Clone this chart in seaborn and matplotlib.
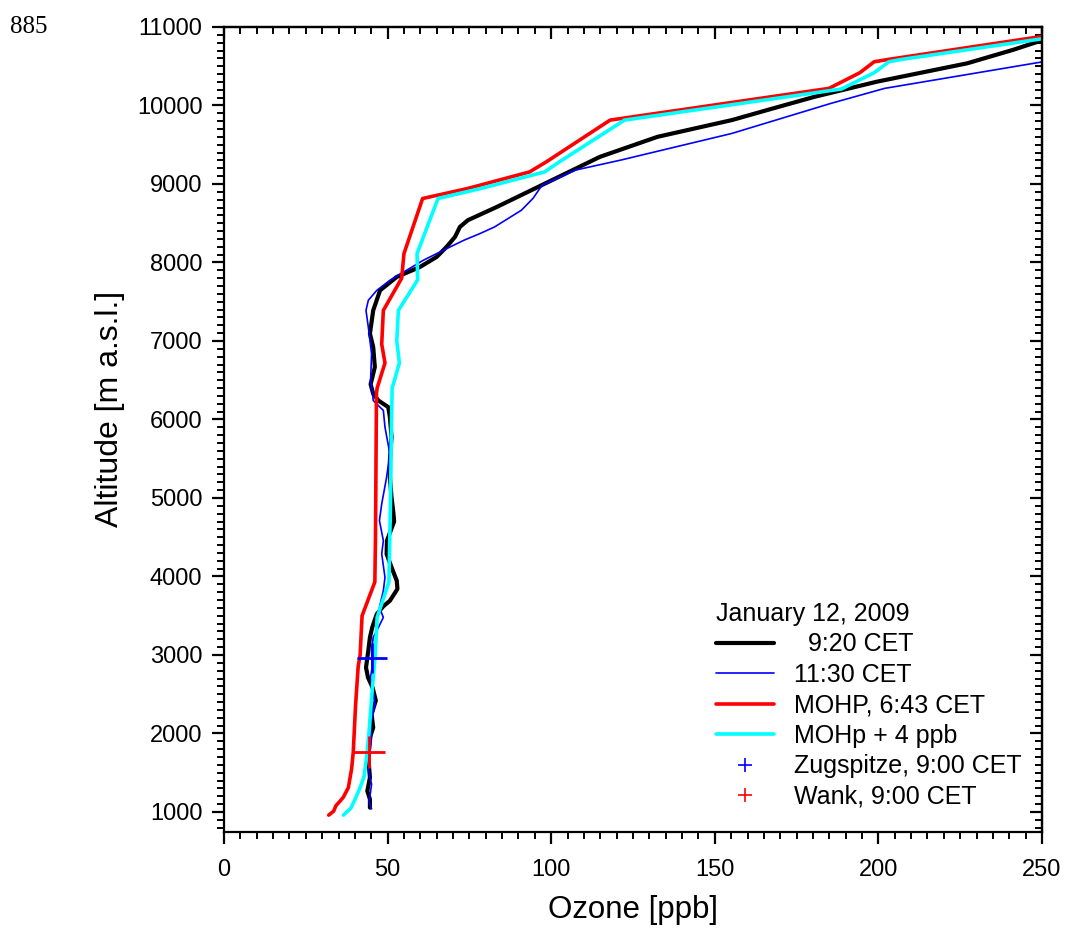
import matplotlib
matplotlib.use('Agg')
import matplotlib.pyplot as plt
from matplotlib.lines import Line2D
from matplotlib.ticker import MultipleLocator
import seaborn as sns

# 9:20 CET profile (ozone ppb, altitude m)
o3_0920 = [44.6, 44.6, 43.8, 44.6, 44.1, 44.6, 45.6, 45.1, 46.4, 45.4,
           44.0, 43.4, 44.1, 44.6, 45.3, 46.7, 48.7, 50.7, 53.0, 52.8,
           51.2, 49.7, 49.8, 52.0, 51.8, 51.2, 50.7, 50.7, 51.2, 50.7,
           50.2, 47.2, 45.6, 44.8, 45.1, 46.1, 45.6, 44.6, 45.6, 47.7,
           52.8, 59.9, 65.0, 68.0, 70.6, 72.1, 74.5, 83.4, 96.0, 114.9,
           132.5, 155.2, 167.8, 180.5, 199.4, 227.1, 241.0, 250.0]
alt_0920 = [1055, 1162, 1268, 1438, 1693, 1948, 2075, 2246, 2420, 2586,
            2714, 2841, 3054, 3224, 3351, 3521, 3620, 3691, 3840, 3946,
            4117, 4287, 4457, 4700, 4797, 5009, 5265, 5477, 5775, 6030,
            6157, 6242, 6327, 6450, 6497, 6668, 6923, 7093, 7390, 7645,
            7816, 7943, 8071, 8198, 8326, 8453, 8538, 8708, 8963, 9346,
            9601, 9814, 9963, 10111, 10302, 10537, 10707, 10830]

# 11:30 CET profile
o3_1130 = [45.1, 44.4, 44.6, 45.1, 44.2, 44.6, 45.1, 44.8, 46.2, 45.6,
           44.8, 45.3, 45.1, 45.6, 47.2, 48.7, 47.5, 48.7, 49.2, 48.2,
           48.7, 47.5, 48.2, 49.7, 50.7, 49.2, 48.7, 45.6, 45.4, 44.8,
           45.1, 44.1, 43.4, 44.1, 46.7, 50.7, 55.8, 60.9, 69.1, 73.3,
           78.2, 82.7, 90.9, 94.5, 97.2, 107.3, 121.2, 155.2, 185.5, 201.9,
           250.0]
alt_1130 = [1040, 1130, 1200, 1353, 1520, 1750, 1948, 2118, 2373, 2544,
            2714, 2850, 3054, 3224, 3351, 3479, 3606, 3819, 3989, 4287,
            4457, 4712, 4924, 5265, 5562, 5902, 6115, 6242, 6327, 6497,
            6838, 7178, 7390, 7518, 7645, 7773, 7901, 8028, 8198, 8283,
            8368, 8453, 8666, 8820, 8985, 9176, 9304, 9644, 10027, 10218,
            10555]

# MOHP, 6:43 CET
o3_mohp = [32.0, 33.5, 34.2, 35.5, 36.5, 38.0, 39.0, 39.5, 40.2, 41.0,
           41.6, 42.2, 46.1, 46.3, 46.6, 46.8, 49.2, 48.2, 48.7, 54.3,
           55.0, 60.7, 74.5, 93.4, 98.5, 118.0, 184.9, 194.3, 198.7, 203.2,
           250.0]
alt_mohp = [960, 1010, 1080, 1140, 1190, 1310, 1550, 1760, 2350, 2850,
            3000, 3500, 3930, 4500, 6330, 6400, 6720, 6960, 7390, 7800,
            8113, 8815, 8943, 9154, 9282, 9814, 10218, 10417, 10557, 10588,
            10880]

# MOHp + 4 ppb
o3_mohp4 = [36.5, 37.5, 38.8, 39.8, 41.5, 42.8, 43.6, 44.3, 45.2, 46.2,
            46.8, 50.4, 50.9, 51.2, 51.4, 53.6, 52.8, 53.3, 59.2, 59.0,
            65.4, 78.5, 98.0, 102.5, 122.4, 188.7, 198.7, 203.2, 207.2, 250.0]
alt_mohp4 = [960, 1000, 1050, 1140, 1300, 1450, 1700, 2000, 2500, 3000,
             3480, 3930, 5000, 6000, 6400, 6720, 7000, 7390, 7780, 8113,
             8815, 8943, 9154, 9282, 9814, 10210, 10417, 10557, 10588, 10850]

# surface stations
zug_o3 = [45.1]
zug_alt = [2962]
wank_o3 = [44.4]
wank_alt = [1762]

sns.set_style('ticks')
plt.rcParams['font.family'] = ['Liberation Sans', 'DejaVu Sans']
for k in ['text.color', 'axes.labelcolor', 'xtick.color', 'ytick.color', 'axes.edgecolor']:
    plt.rcParams[k] = 'black'

fig = plt.figure(figsize=(10.65, 9.3), dpi=100)
ax = fig.add_axes([224 / 1065, 98 / 930, 818 / 1065, 805 / 930])

sns.lineplot(x=o3_0920, y=alt_0920, sort=False, estimator=None, color='black',
             lw=3.0, ax=ax, solid_joinstyle='round')
sns.lineplot(x=o3_1130, y=alt_1130, sort=False, estimator=None, color='#0000ff',
             lw=1.2, ax=ax, solid_joinstyle='round')
sns.lineplot(x=o3_mohp, y=alt_mohp, sort=False, estimator=None, color='#ff0000',
             lw=2.6, ax=ax)
sns.lineplot(x=o3_mohp4, y=alt_mohp4, sort=False, estimator=None, color='#00ffff',
             lw=2.6, ax=ax)
sns.scatterplot(x=zug_o3, y=zug_alt, marker='+', s=470, color='#0000ff',
                linewidth=2.0, ax=ax, zorder=5)
sns.scatterplot(x=wank_o3, y=wank_alt, marker='+', s=520, color='#ff0000',
                linewidth=2.0, ax=ax, zorder=5)

ax.set_xlim(0, 250)
ax.set_ylim(745, 11000)
ax.xaxis.set_major_locator(MultipleLocator(50))
ax.xaxis.set_minor_locator(MultipleLocator(5))
ax.yaxis.set_major_locator(MultipleLocator(1000))
ax.yaxis.set_minor_locator(MultipleLocator(100))

for s in ax.spines.values():
    s.set_linewidth(1.6)
    s.set_visible(True)
ax.tick_params(which='major', direction='out', length=8.5, width=1.6,
               labelsize=17, pad=7)
ax.tick_params(axis='x', which='major', pad=11)
ax.tick_params(which='minor', direction='out', length=5, width=1.4)

# inward ticks on the opposite sides
top = ax.secondary_xaxis('top')
top.xaxis.set_major_locator(MultipleLocator(50))
top.xaxis.set_minor_locator(MultipleLocator(5))
top.tick_params(which='major', direction='in', length=8.5, width=1.6, labeltop=False)
top.tick_params(which='minor', direction='in', length=5, width=1.4)
right = ax.secondary_yaxis('right')
right.yaxis.set_major_locator(MultipleLocator(1000))
right.yaxis.set_minor_locator(MultipleLocator(100))
right.tick_params(which='major', direction='in', length=8.5, width=1.6, labelright=False)
right.tick_params(which='minor', direction='in', length=5, width=1.4)
for sec in (top, right):
    for s in sec.spines.values():
        s.set_linewidth(1.6)

ax.set_xlabel('Ozone [ppb]', fontsize=22.5, labelpad=10)
ax.set_ylabel('Altitude [m a.s.l.]', fontsize=23)
ax.yaxis.set_label_coords(-0.121, 0.525)

handles = [
    Line2D([], [], color='black', lw=3.0),
    Line2D([], [], color='#0000ff', lw=1.2),
    Line2D([], [], color='#ff0000', lw=2.6),
    Line2D([], [], color='#00ffff', lw=2.6),
    Line2D([], [], ls='', marker='+', color='#0000ff', markersize=10, mew=1.2),
    Line2D([], [], ls='', marker='+', color='#ff0000', markersize=10, mew=1.2),
]
labels = ['  9:20 CET', '11:30 CET', 'MOHP, 6:43 CET', 'MOHp + 4 ppb',
          'Zugspitze, 9:00 CET', 'Wank, 9:00 CET']
leg = ax.legend(handles, labels, title='January 12, 2009', frameon=False,
                loc='upper left', bbox_to_anchor=(0.602, 0.286),
                fontsize=18, title_fontsize=18, handlelength=2.3,
                handletextpad=0.8, labelspacing=0.26, borderpad=0,
                borderaxespad=0)
leg._legend_box.align = 'left'

fig.text(10 / 1065, 1 - 33 / 930, '885', family='Liberation Serif',
         fontsize=18, va='baseline')

fig.savefig('out.png', dpi=100)
